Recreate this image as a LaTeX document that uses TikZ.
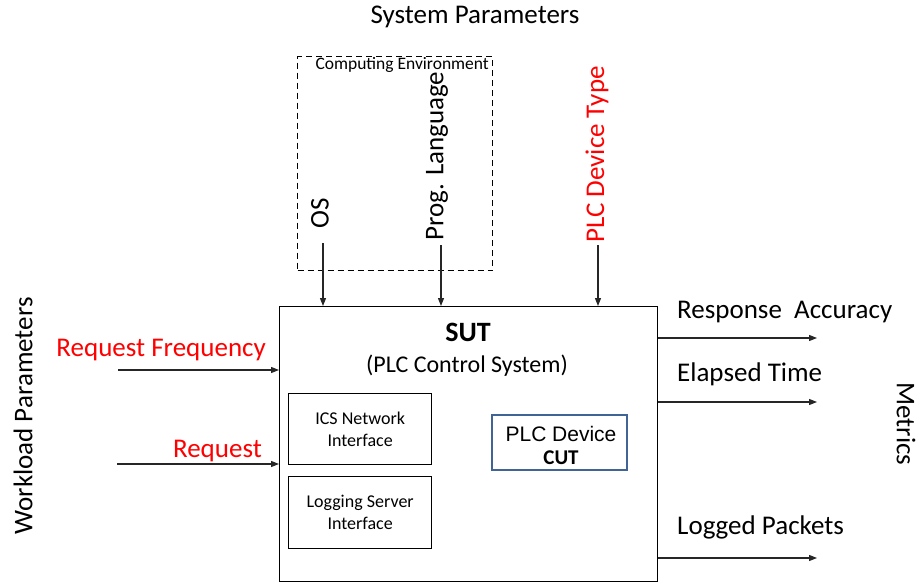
\documentclass[tikz,border=0pt]{standalone}
\usepackage{fontspec}
\setmainfont{Carlito}
\newfontfamily\arialf{Liberation Sans}
\usetikzlibrary{arrows.meta}
\definecolor{plcblue}{RGB}{65,100,150}
\definecolor{redtxt}{RGB}{255,0,0}
\begin{document}
\begin{tikzpicture}[x=1pt,y=-1pt,
  big/.style={inner sep=0pt, font=\fontsize{27}{31}\selectfont},
  small/.style={inner sep=0pt, font=\fontsize{18}{22}\selectfont, align=center},
  blk/.style={draw=black, line width=1.3pt, inner sep=0pt},
  arr/.style={draw=black!85, line width=1.2pt, -{Triangle[length=8pt,width=6pt]}}]
\useasboundingbox (0,0) rectangle (924,584);
% main box
\node[blk, anchor=north west, minimum width=378pt, minimum height=275pt] (sut) at (279,306) {};
\node[inner sep=0pt, font=\fontsize{28}{32}\selectfont\bfseries] (suttitle) at (468,332) {SUT};
\node[inner sep=0pt, font=\fontsize{24}{28}\selectfont] (sutsub) at (467,366) {(PLC Control System)};
% inner boxes
\node[blk, anchor=north west, minimum width=143pt, minimum height=71pt, small] (ics) at (288,393) {ICS Network\\Interface};
\node[blk, anchor=north west, minimum width=143pt, minimum height=72pt, small] (log) at (288,476) {Logging Server\\Interface};
\node[draw=plcblue, line width=2.2pt, anchor=north west, minimum width=135pt, minimum height=55pt] (plc) at (491,414) {};
\node[inner sep=0pt, font=\arialf\fontsize{21}{24}\selectfont] (plcname) at (561,434) {PLC Device};
\node[inner sep=0pt, font=\fontsize{21}{24}\selectfont\bfseries] (cut) at (561,458) {CUT};
% dashed computing environment
\node[draw=black, dash pattern=on 6pt off 4pt, line width=1.3pt, anchor=north west, minimum width=195pt, minimum height=214pt, inner sep=0pt] (env) at (297,56) {};
\node[inner sep=0pt, font=\fontsize{17.5}{20}\selectfont, anchor=north east] (envlbl) at (489,57) {Computing Environment};
\node[big] (sysp) at (475,17) {System Parameters};
% top labels
\node[big, rotate=90, anchor=west] (os) at (320,229) {OS};
\node[big, rotate=90, anchor=west] (prog) at (437,241) {Prog. Language};
\node[big, rotate=90, anchor=west, text=redtxt] (plctype) at (597,243) {PLC Device Type};
\coordinate (osS) at (323,243);
\coordinate (progS) at (441,245);
\coordinate (plctS) at (598,245);
\draw[arr] (osS) -- (osS |- sut.north);
\draw[arr] (progS) -- (progS |- sut.north);
\draw[arr] (plctS) -- (plctS |- sut.north);
% workload
\node[big, rotate=90] (wl) at (23,416) {Workload Parameters};
\node[big, text=redtxt, anchor=south east] (rf) at (266,361) {Request Frequency};
\node[big, text=redtxt, anchor=south east] (rq) at (262,462) {Request};
\coordinate (rfS) at (118,370);
\coordinate (rqS) at (117,464);
\draw[arr] (rfS) -- (rfS -| sut.west);
\draw[arr] (rqS) -- (rqS -| sut.west);
% metrics
\node[big, anchor=south west] (ra) at (677,323) {Response~~Accuracy};
\node[big, anchor=south west] (et) at (677,386) {Elapsed Time};
\node[big, anchor=south west] (lp) at (677,539) {Logged Packets};
\coordinate (raE) at (817,338);
\coordinate (etE) at (817,402);
\coordinate (lpE) at (817,558);
\draw[arr] (raE -| sut.east) -- (raE);
\draw[arr] (etE -| sut.east) -- (etE);
\draw[arr] (lpE -| sut.east) -- (lpE);
\node[big, rotate=-90] (met) at (906,424) {Metrics};
\end{tikzpicture}
\end{document}
